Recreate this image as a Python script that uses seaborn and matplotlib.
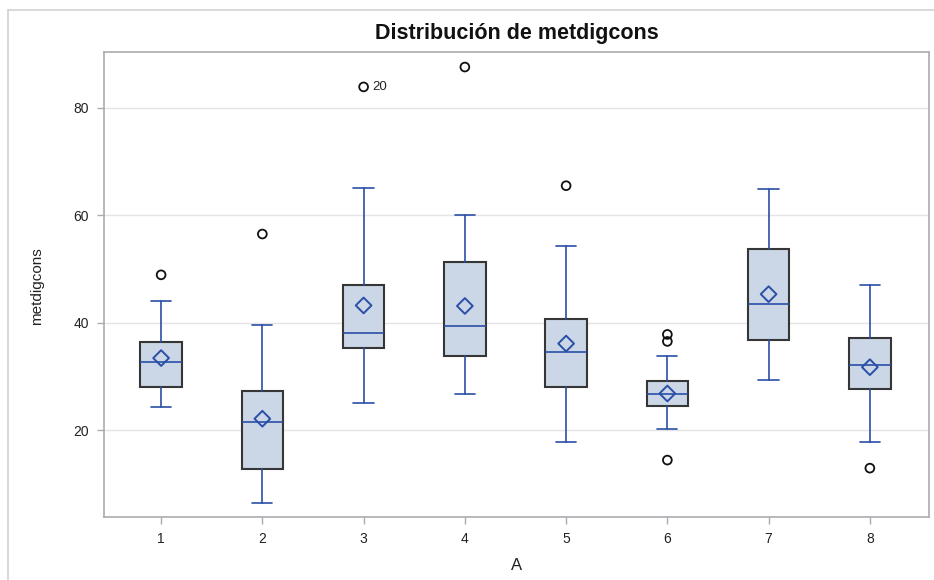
import matplotlib
matplotlib.use("Agg")
import matplotlib.pyplot as plt
import seaborn as sns
import pandas as pd
from matplotlib.lines import Line2D

# Summary statistics of metdigcons for each level of A
groups = [1, 2, 3, 4, 5, 6, 7, 8]
whisker_low = [24.3, 6.5, 25.0, 26.8, 17.8, 20.1, 29.3, 17.8]
q1 = [28.0, 12.7, 35.2, 33.8, 28.1, 24.5, 36.7, 27.7]
median = [32.7, 21.4, 38.1, 39.3, 34.5, 26.8, 43.5, 32.2]
q3 = [36.3, 27.2, 47.1, 51.3, 40.7, 29.1, 53.8, 37.2]
whisker_high = [44.1, 39.6, 65.1, 60.1, 54.3, 33.7, 64.8, 47.1]
means = [33.4, 22.1, 43.2, 43.1, 36.1, 26.8, 45.3, 31.7]

# Outlying observations (group, value, observation id)
outlier_group = [1, 2, 3, 4, 5, 6, 6, 6, 8]
outlier_value = [48.9, 56.5, 83.9, 87.6, 65.5, 37.8, 36.5, 14.4, 12.9]
outlier_id = ["", "", "20", "", "", "", "", "", ""]

sns.set_theme(style="white")
plt.rcParams["font.family"] = ["Liberation Sans", "DejaVu Sans"]

BOX_FILL = "#cbd6e6"
BOX_EDGE = "#363636"
BLUE = "#2a4fa6"
FRAME = "#a9acb0"

fig = plt.figure(figsize=(9.34, 5.8), dpi=100)
ax = fig.add_axes([104 / 934, 1 - 517 / 580, (929 - 104) / 934, (517 - 52) / 580])

stats_df = pd.DataFrame({
    "A": groups, "whislo": whisker_low, "q1": q1, "med": median,
    "q3": q3, "whishi": whisker_high, "mean": means,
})
bxp_stats = [
    {"whislo": r.whislo, "q1": r.q1, "med": r.med, "q3": r.q3,
     "whishi": r.whishi, "fliers": []}
    for r in stats_df.itertuples()
]
ax.bxp(
    bxp_stats, positions=stats_df["A"], widths=0.41, capwidths=0.2,
    patch_artist=True, showfliers=False, manage_ticks=False,
    boxprops=dict(facecolor=BOX_FILL, edgecolor=BOX_EDGE, linewidth=1.5),
    whiskerprops=dict(color=BLUE, linewidth=1.2),
    capprops=dict(color=BLUE, linewidth=1.2),
    medianprops=dict(color=BLUE, linewidth=1.2),
    zorder=3,
)

# Means as open diamonds
sns.scatterplot(data=stats_df, x="A", y="mean", marker="D", s=64,
                facecolors="none", edgecolor=BLUE, linewidth=1.4,
                ax=ax, zorder=5, legend=False)

# Outliers as open circles
out_df = pd.DataFrame({"A": outlier_group, "value": outlier_value, "id": outlier_id})
sns.scatterplot(data=out_df, x="A", y="value", marker="o", s=40,
                facecolors="none", edgecolor="#111111", linewidth=1.3,
                ax=ax, zorder=5, legend=False)
for r in out_df.itertuples():
    if r.id:
        ax.annotate(r.id, (r.A, r.value), xytext=(6, 0), textcoords="offset points",
                    va="center", ha="left", fontsize=9.5, color="#222222")

ax.set_xlim(0.436, 8.584)
ax.set_ylim(3.8, 90.4)
ax.set_xticks(groups)
ax.set_xticklabels([str(g) for g in groups])
ax.set_yticks([20, 40, 60, 80])
ax.yaxis.grid(True, color="#e4e4e4", linewidth=1.0, zorder=0)
ax.set_axisbelow(True)
ax.set_xlabel("")
ax.set_ylabel("")

for side, sp in ax.spines.items():
    sp.set_color(FRAME)
    sp.set_linewidth(1.2)
ax.tick_params(axis="both", direction="out", length=5, width=1.0, color=FRAME,
               labelsize=10, labelcolor="#222222", pad=6, bottom=True, left=True)

fig.text(516.5 / 934, 1 - 33 / 580, "Distribución de metdigcons", ha="center",
         va="center", fontsize=15.5, fontweight="bold", color="#111111")
fig.text(37 / 934, 1 - 286 / 580, "metdigcons", rotation=90, ha="center",
         va="center", fontsize=11, color="#222222")
fig.text(516.5 / 934, 1 - 565 / 580, "A", ha="center", va="center",
         fontsize=12, color="#222222")

# Light outer frame along the left and top edges of the graph
x0, y_top = 8 / 934, 1 - 10 / 580
for xs, ys in [([x0, x0], [0, y_top]), ([x0, 1], [y_top, y_top])]:
    fig.lines.append(Line2D(xs, ys, transform=fig.transFigure,
                            color="#d2d2d2", linewidth=1.2))

fig.savefig("out.png", dpi=100)
